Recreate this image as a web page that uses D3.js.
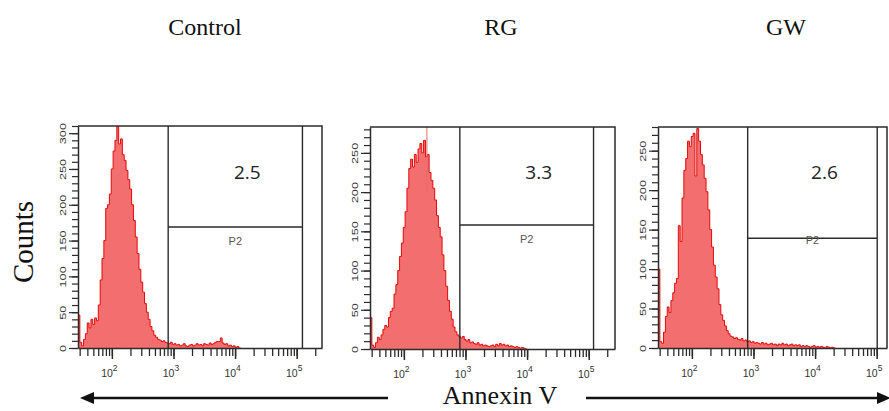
<!DOCTYPE html>
<html>
<head>
<meta charset="utf-8">
<script src="https://cdn.jsdelivr.net/npm/d3@7/dist/d3.min.js"></script>
<style>
  body { margin: 0; background: #fff; }
  svg { display: block; }
</style>
</head>
<body>
<svg id="chart" width="889" height="411"></svg>
<script>
// ---- data -------------------------------------------------------------
const sampleNames = ["Control", "RG", "GW"];
const apoptosisPct = ["2.5", "3.3", "2.6"];
const gateName = "P2";
const xAxisTitle = "Annexin V";
const yAxisTitle = "Counts";

// histogram bins on a log10 intensity scale: bin i starts at binStartLog + i*binStepLog
const binStartLog = 1.45;
const binStepLog = 0.03;

const controlCounts = [46, 8, 3, 12, 20, 35, 28, 40, 33, 42, 38, 60, 95, 125, 150, 195, 200, 215, 250, 275,
  290, 310, 285, 292, 270, 262, 248, 235, 222, 200, 178, 155, 132, 110, 92, 78, 62, 50, 40, 30,
  24, 18, 15, 12, 11, 9, 10, 8, 7, 6, 8, 5, 6, 4, 5, 3, 4, 6, 3, 2,
  4, 5, 3, 4, 6, 4, 5, 3, 6, 5, 4, 7, 5, 6, 8, 9, 9, 14, 7, 5,
  6, 3, 4, 2, 3, 1, 2, 0];

const rgCounts = [40, 5, 2, 8, 15, 12, 18, 25, 30, 28, 40, 48, 52, 70, 82, 100, 118, 135, 155, 175,
  205, 230, 242, 232, 248, 238, 255, 262, 250, 266, 245, 248, 225, 215, 205, 190, 170, 155, 143, 120,
  100, 80, 62, 48, 38, 28, 22, 18, 16, 14, 16, 12, 10, 12, 8, 9, 7, 6, 8, 5,
  6, 4, 5, 4, 3, 4, 5, 3, 6, 4, 7, 5, 6, 4, 5, 3, 4, 3, 2, 3,
  2, 1, 2, 1, 0];

const gwCounts = [100, 8, 6, 20, 40, 52, 45, 60, 70, 82, 88, 155, 135, 190, 225, 240, 262, 255, 268, 272,
  218, 278, 262, 245, 232, 215, 198, 175, 150, 128, 105, 90, 75, 55, 42, 35, 28, 22, 18, 15,
  14, 12, 13, 11, 10, 12, 9, 10, 8, 9, 7, 8, 6, 7, 6, 5, 7, 5, 6, 4,
  5, 6, 4, 5, 3, 5, 4, 6, 4, 5, 3, 4, 5, 3, 4, 3, 4, 2, 3, 2,
  3, 2, 1, 2, 3, 1, 2, 1, 2, 1, 0, 2, 1, 0, 1, 0];

const seriesCounts = [controlCounts, rgCounts, gwCounts];

// single-event spike drawn as a thin line (RG sample), log10 intensity
const rgSpikeLog = 2.374;

// top of each count axis
const countMax = [310, 283, 280];
// gate P2: intensity range and the count level of its horizontal divider
const gateLow = [820, 810, 805];
const gateHigh = [124000, 120000, 102000];
const gateCount = [169, 158, 139];

const countTickStep = 10;
const countLabelStep = 50;
const decadeExponents = [2, 3, 4, 5];

// ---- layout -----------------------------------------------------------
const panels = [
  { left: 78, right: 322, top: 126, bottom: 348 },
  { left: 370, right: 615, top: 127, bottom: 349 },
  { left: 658, right: 887, top: 127, bottom: 348 }
];
const decadePx = 61.6;
const titleX = [205, 501, 786];

const ink = "#2b2b2b";
const fillRed = "#f36f6f";
const lineRed = "#e20a0a";

const svg = d3.select("#chart");
const defs = svg.append("defs");

panels.forEach((p, i) => {
  const x = d3.scaleLog()
    .domain([Math.pow(10, binStartLog), Math.pow(10, binStartLog + (p.right - p.left) / decadePx)])
    .range([p.left, p.right]);
  const y = d3.scaleLinear().domain([0, countMax[i]]).range([p.bottom, p.top]);

  const g = svg.append("g");

  defs.append("clipPath").attr("id", "clip" + i)
    .append("rect")
    .attr("x", p.left).attr("y", p.top)
    .attr("width", p.right - p.left).attr("height", p.bottom - p.top);

  // histogram
  const counts = seriesCounts[i];
  const pts = counts.map((c, k) => ({ v: Math.pow(10, binStartLog + k * binStepLog), c }));
  pts.push({ v: Math.pow(10, binStartLog + counts.length * binStepLog), c: counts[counts.length - 1] });

  const area = d3.area().curve(d3.curveStepAfter)
    .x(d => x(d.v)).y0(y(0)).y1(d => y(Math.min(d.c, countMax[i])));
  const line = d3.line().curve(d3.curveStepAfter)
    .x(d => x(d.v)).y(d => y(Math.min(d.c, countMax[i])));

  const hist = g.append("g").attr("clip-path", `url(#clip${i})`);
  hist.append("path").datum(pts).attr("d", area).attr("fill", fillRed);
  hist.append("path").datum(pts).attr("d", line)
    .attr("fill", "none").attr("stroke", lineRed).attr("stroke-width", 1);

  if (i === 1) {
    const sx = x(Math.pow(10, rgSpikeLog));
    hist.append("line")
      .attr("x1", sx).attr("x2", sx)
      .attr("y1", y(countMax[i])).attr("y2", y(200))
      .attr("stroke", "#e86a6a").attr("stroke-width", 1);
  }

  // plot frame: top and right edges
  g.append("path")
    .attr("d", `M${p.left},${p.top}H${p.right}V${p.bottom}`)
    .attr("fill", "none").attr("stroke", ink).attr("stroke-width", 1.5);

  // gate P2
  const gx0 = x(gateLow[i]), gx1 = x(gateHigh[i]), gy = y(gateCount[i]);
  g.append("path")
    .attr("d", `M${gx0},${p.bottom}V${p.top}M${gx1},${p.bottom}V${p.top}M${gx0},${gy}H${gx1}`)
    .attr("fill", "none").attr("stroke", ink).attr("stroke-width", 1.4);
  const gmid = Math.sqrt(gateLow[i] * gateHigh[i]);
  g.append("text")
    .attr("x", x(gmid)).attr("y", gy + (i === 2 ? 6 : 18))
    .attr("text-anchor", "middle")
    .attr("font-family", "Liberation Sans, Arial, sans-serif")
    .attr("font-size", 11).attr("fill", "#555")
    .text(gateName);
  g.append("text")
    .attr("x", x(gmid) + 12).attr("y", 179)
    .attr("text-anchor", "middle")
    .attr("font-family", "Open Sans, sans-serif")
    .attr("font-size", 19).attr("fill", "#222")
    .text(apoptosisPct[i]);

  // count axis
  const yMinor = d3.range(0, countMax[i] + 0.1, countTickStep);
  const yMajor = yMinor.filter(v => v % countLabelStep === 0);
  g.append("g").attr("transform", `translate(${p.left},0)`)
    .call(d3.axisLeft(y).tickValues(yMinor).tickSize(6).tickSizeOuter(0).tickFormat(""))
    .call(a => a.select(".domain").attr("stroke", ink).attr("stroke-width", 1.5))
    .call(a => a.selectAll(".tick line").attr("stroke", ink).attr("stroke-width", 1.2));
  const yAx = g.append("g").attr("transform", `translate(${p.left},0)`)
    .call(d3.axisLeft(y).tickValues(yMajor).tickSize(9).tickSizeOuter(0).tickFormat(d3.format("d")));
  yAx.select(".domain").remove();
  yAx.selectAll(".tick line").attr("stroke", ink).attr("stroke-width", 1.2);
  yAx.selectAll(".tick text")
    .attr("x", null).attr("dy", null)
    .attr("transform", "translate(-15,0) rotate(-90) scale(1.5,1)")
    .attr("text-anchor", "middle")
    .attr("dominant-baseline", "central")
    .attr("font-family", "Liberation Sans, Arial, sans-serif")
    .attr("font-size", 8.5).attr("fill", "#333");

  // intensity axis (log decades)
  const [d0, d1] = x.domain();
  const xMinor = [];
  for (let e = 1; e <= 5; e++) {
    for (let m = 1; m <= 9; m++) {
      const v = m * Math.pow(10, e);
      if (v >= d0 && v <= d1) xMinor.push(v);
    }
  }
  const xMajor = decadeExponents.map(e => Math.pow(10, e)).filter(v => v <= d1);
  g.append("g").attr("transform", `translate(0,${p.bottom})`)
    .call(d3.axisBottom(x).tickValues(xMinor).tickSize(8).tickSizeOuter(0).tickFormat(""))
    .call(a => a.select(".domain").attr("stroke", ink).attr("stroke-width", 1.5))
    .call(a => a.selectAll(".tick line").attr("stroke", ink).attr("stroke-width", 1.3));
  const xAx = g.append("g").attr("transform", `translate(0,${p.bottom})`)
    .call(d3.axisBottom(x).tickValues(xMajor).tickSize(11).tickSizeOuter(0).tickFormat(""));
  xAx.select(".domain").remove();
  xAx.selectAll(".tick line").attr("stroke", ink).attr("stroke-width", 1.5);
  xAx.selectAll(".tick text").remove();
  xAx.selectAll(".tick").append("text")
    .attr("x", -3).attr("y", 29)
    .attr("text-anchor", "middle")
    .attr("font-family", "Liberation Sans, Arial, sans-serif")
    .attr("font-size", 10.5).attr("fill", "#333")
    .each(function(d) {
      const t = d3.select(this);
      t.append("tspan").text("10");
      t.append("tspan").attr("dy", -6).attr("font-size", 8.5).text(Math.round(Math.log10(d)));
    });

  // sample title
  svg.append("text")
    .attr("x", titleX[i]).attr("y", 35)
    .attr("text-anchor", "middle")
    .attr("font-family", "Liberation Serif, Times New Roman, serif")
    .attr("font-size", 24).attr("fill", "#111")
    .text(sampleNames[i]);
});

// axis titles
svg.append("text")
  .attr("transform", "translate(33,242) rotate(-90)")
  .attr("text-anchor", "middle")
  .attr("font-family", "Liberation Serif, Times New Roman, serif")
  .attr("font-size", 29).attr("fill", "#111")
  .text(yAxisTitle);

svg.append("text")
  .attr("x", 500).attr("y", 404)
  .attr("text-anchor", "middle")
  .attr("font-family", "Liberation Serif, Times New Roman, serif")
  .attr("font-size", 26).attr("fill", "#111")
  .text(xAxisTitle);

// double-headed arrow around the intensity title
const arrowY = 398;
svg.append("line").attr("x1", 88).attr("x2", 388).attr("y1", arrowY).attr("y2", arrowY)
  .attr("stroke", "#111").attr("stroke-width", 2.5);
svg.append("path").attr("d", `M80,${arrowY}L94,${arrowY - 6}L94,${arrowY + 6}Z`).attr("fill", "#111");
svg.append("line").attr("x1", 586).attr("x2", 880).attr("y1", arrowY).attr("y2", arrowY)
  .attr("stroke", "#111").attr("stroke-width", 2.5);
svg.append("path").attr("d", `M891,${arrowY}L877,${arrowY - 6}L877,${arrowY + 6}Z`).attr("fill", "#111");
</script>
</body>
</html>
